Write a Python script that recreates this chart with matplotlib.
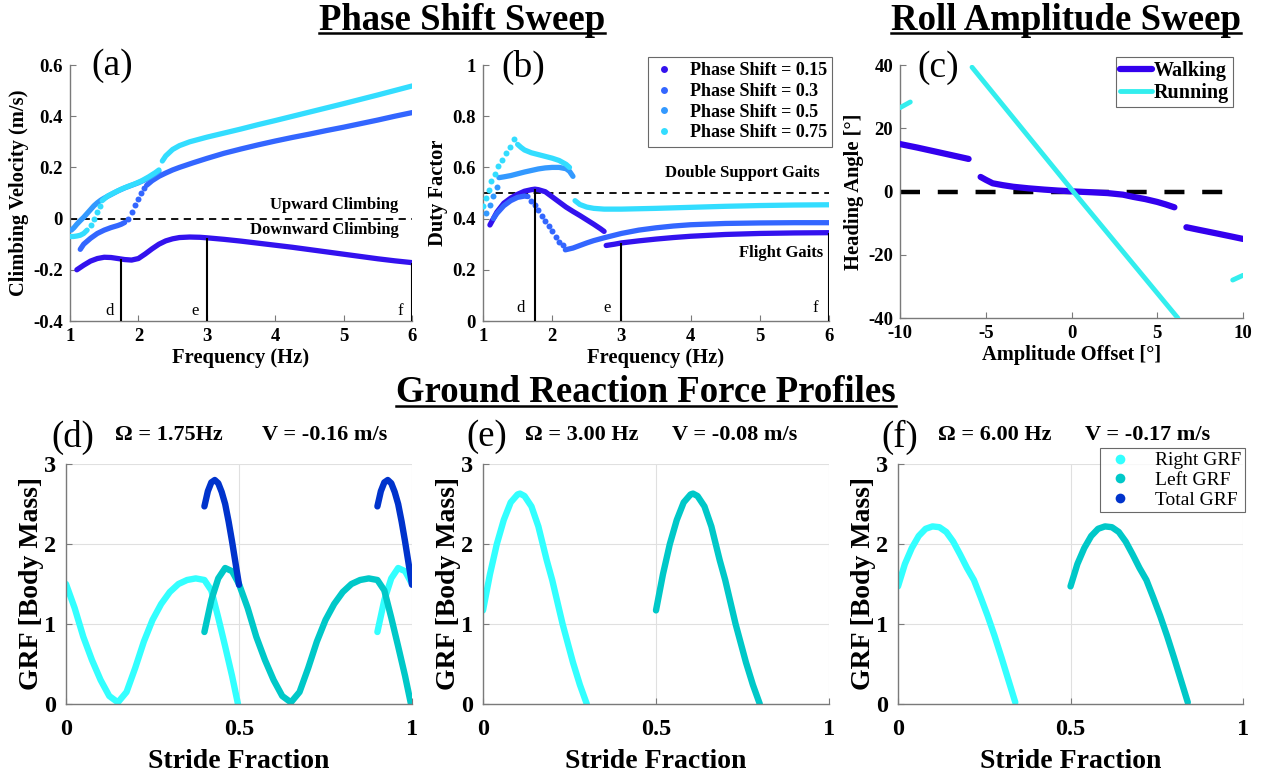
import matplotlib
matplotlib.use("Agg")
import matplotlib.pyplot as plt
from matplotlib.lines import Line2D
from matplotlib.ticker import FuncFormatter

# ---- 색상 ----
C015, C03, C05, C075 = "#3312ee", "#3366ff", "#3399ff", "#33ddff"
C_WALK, C_RUN = "#3300ee", "#33eeee"
C_RIGHT, C_LEFT, C_TOTAL = "#33ffff", "#00c8c8", "#0033cc"

phase_labels = ["Phase Shift = 0.15", "Phase Shift = 0.3", "Phase Shift = 0.5", "Phase Shift = 0.75"]
marker_freqs = [1.75, 3.0, 6.0]
marker_names = ["d", "e", "f"]

# ---- (a) climbing velocity vs frequency ----
a_f_015 = [1.1, 1.2, 1.3, 1.4, 1.5, 1.6, 1.7, 1.8, 1.9, 2.0, 2.1, 2.2, 2.3, 2.4, 2.5, 2.6, 2.75, 2.9,
           3.0, 3.25, 3.5, 3.75, 4.0, 4.25, 4.5, 4.75, 5.0, 5.25, 5.5, 5.75, 6.0]
a_v_015 = [-0.200, -0.182, -0.166, -0.156, -0.151, -0.152, -0.156, -0.160, -0.162, -0.156, -0.138, -0.118,
           -0.100, -0.087, -0.079, -0.074, -0.072, -0.073, -0.075, -0.081, -0.088, -0.096, -0.104, -0.112,
           -0.121, -0.130, -0.139, -0.148, -0.157, -0.165, -0.172]
a_f_03 = [1.15, 1.2, 1.3, 1.4, 1.5, 1.6, 1.7, 1.75, 1.8]
a_v_03 = [-0.12, -0.10, -0.077, -0.058, -0.045, -0.035, -0.027, -0.022, -0.015]
a_f_03_dots = [1.85, 1.9, 1.95, 2.0, 2.04, 2.08]
a_v_03_dots = [0.0, 0.027, 0.053, 0.078, 0.1, 0.118]
a_f_03_b = [2.12, 2.2, 2.3, 2.4, 2.5, 2.6, 2.8, 3.0, 3.25, 3.5, 3.75, 4.0, 4.25, 4.5, 4.75, 5.0,
            5.25, 5.5, 5.75, 6.0]
a_v_03_b = [0.13, 0.148, 0.165, 0.178, 0.19, 0.2, 0.218, 0.235, 0.255, 0.272, 0.288, 0.303, 0.317,
            0.330, 0.344, 0.357, 0.371, 0.385, 0.4, 0.414]
a_f_05 = [1.02, 1.06, 1.1, 1.15, 1.2, 1.25, 1.3, 1.35, 1.4, 1.45, 1.5, 1.6, 1.7, 1.8, 1.9, 2.0, 2.1, 2.2, 2.3]
a_v_05 = [-0.045, -0.035, -0.022, -0.008, 0.005, 0.02, 0.035, 0.05, 0.062, 0.072, 0.08, 0.094, 0.108,
          0.12, 0.13, 0.14, 0.152, 0.167, 0.185]
a_f_075 = [1.0, 1.05, 1.1, 1.15, 1.2, 1.25]
a_v_075 = [-0.07, -0.07, -0.068, -0.065, -0.058, -0.045]
a_f_075_dots = [1.3, 1.35, 1.4, 1.44]
a_v_075_dots = [-0.025, 0.0, 0.025, 0.05]
a_f_075_b = [1.47, 1.55, 1.65, 1.75, 1.85, 1.95, 2.05, 2.15, 2.25, 2.3]
a_v_075_b = [0.07, 0.088, 0.102, 0.115, 0.126, 0.136, 0.148, 0.163, 0.18, 0.19]
a_f_075_c = [2.35, 2.4, 2.5, 2.6, 2.75, 3.0, 3.25, 3.5, 3.75, 4.0, 4.5, 5.0, 5.5, 6.0]
a_v_075_c = [0.225, 0.245, 0.27, 0.285, 0.3, 0.318, 0.334, 0.35, 0.367, 0.383, 0.416, 0.449, 0.483, 0.518]
a_mark_v = [-0.158, -0.075, -0.172]

# ---- (b) duty factor vs frequency ----
b_f_015 = [1.1, 1.15, 1.2, 1.3, 1.4, 1.5, 1.6, 1.7, 1.75, 1.8, 1.9, 2.0, 2.1, 2.2, 2.3, 2.4, 2.5, 2.6, 2.7, 2.75]
b_d_015 = [0.375, 0.4, 0.425, 0.46, 0.48, 0.495, 0.507, 0.513, 0.515, 0.513, 0.505, 0.485, 0.465, 0.445,
           0.428, 0.412, 0.395, 0.378, 0.36, 0.35]
b_f_015_b = [2.78, 2.9, 3.0, 3.25, 3.5, 3.75, 4.0, 4.5, 5.0, 5.5, 6.0]
b_d_015_b = [0.295, 0.3, 0.305, 0.313, 0.32, 0.326, 0.331, 0.338, 0.342, 0.344, 0.345]
b_f_03 = [1.15, 1.2, 1.3, 1.4, 1.5, 1.6, 1.65]
b_d_03 = [0.40, 0.42, 0.45, 0.47, 0.483, 0.488, 0.486]
b_f_03_dots = [1.7, 1.75, 1.8, 1.85, 1.9, 1.95, 2.0, 2.05, 2.1, 2.15]
b_d_03_dots = [0.47, 0.455, 0.435, 0.41, 0.39, 0.37, 0.35, 0.33, 0.31, 0.295]
b_f_03_b = [2.19, 2.3, 2.4, 2.5, 2.6, 2.75, 3.0, 3.25, 3.5, 3.75, 4.0, 4.5, 5.0, 5.5, 6.0]
b_d_03_b = [0.278, 0.285, 0.295, 0.305, 0.314, 0.325, 0.342, 0.355, 0.364, 0.371, 0.376, 0.381, 0.383,
            0.384, 0.384]
b_f_05_dots = [1.05, 1.1, 1.15, 1.2]
b_d_05_dots = [0.42, 0.455, 0.49, 0.525]
b_f_05 = [1.23, 1.3, 1.4, 1.5, 1.6, 1.7, 1.8, 1.9, 2.0, 2.1, 2.2, 2.25, 2.3]
b_d_05 = [0.56, 0.563, 0.568, 0.575, 0.582, 0.588, 0.594, 0.598, 0.6, 0.6, 0.595, 0.585, 0.565]
b_f_075_dots = [1.0, 1.04, 1.08, 1.12, 1.17, 1.22, 1.27, 1.33, 1.39, 1.45]
b_d_075_dots = [0.45, 0.48, 0.51, 0.545, 0.575, 0.605, 0.63, 0.655, 0.68, 0.71]
b_f_075 = [1.5, 1.55, 1.6, 1.7, 1.8, 1.9, 2.0, 2.1, 2.2, 2.25]
b_d_075 = [0.69, 0.678, 0.668, 0.657, 0.65, 0.643, 0.636, 0.627, 0.612, 0.6]
b_f_075_b = [2.33, 2.4, 2.5, 2.6, 2.75, 3.0, 3.5, 4.0, 4.5, 5.0, 5.5, 6.0]
b_d_075_b = [0.47, 0.455, 0.445, 0.44, 0.437, 0.437, 0.44, 0.444, 0.448, 0.451, 0.453, 0.454]
b_mark_d = [0.515, 0.305, 0.345]

# ---- (c) heading angle vs amplitude offset ----
c_walk_a1 = [-10, -9, -8, -7, -6]
c_walk_h1 = [15, 13.9, 12.7, 11.5, 10.3]
c_walk_a2 = [-5.3, -5, -4.6, -4, -3.4, -2.5, -1.6, -0.8, 0.2, 1.2, 2.1, 3, 3.6, 4.3, 5, 5.5, 6]
c_walk_h2 = [4.6, 3.7, 2.6, 2.0, 1.5, 1.0, 0.6, 0.3, 0, -0.25, -0.5, -1.0, -1.7, -2.4, -3.3, -4.1, -5.0]
c_walk_a3 = [6.7, 7.5, 8.5, 9.3, 10]
c_walk_h3 = [-11.3, -12.2, -13.3, -14.2, -15]
c_run_a1 = [-10, -9.4]
c_run_h1 = [26.5, 28.3]
c_run_a2 = [-5.8, 0.1, 6.2]
c_run_h2 = [39.3, 0, -40]
c_run_a3 = [9.4, 10]
c_run_h3 = [-28, -26.5]
c_ref_a = [-10, 9]

# ---- (d) 1.75 Hz ----
d_s_right1 = [0, 0.025, 0.05, 0.075, 0.1, 0.125, 0.15, 0.175, 0.2, 0.225, 0.25, 0.275, 0.3, 0.325, 0.35,
              0.375, 0.4, 0.42, 0.44, 0.46, 0.48, 0.497]
d_g_right1 = [1.5, 1.2, 0.84, 0.55, 0.3, 0.1, 0.02, 0.15, 0.45, 0.78, 1.05, 1.25, 1.4, 1.5, 1.55, 1.57,
              1.55, 1.42, 1.08, 0.72, 0.35, 0.0]
d_s_right2 = [0.9, 0.92, 0.94, 0.96, 0.98, 1.0]
d_g_right2 = [0.9, 1.3, 1.57, 1.7, 1.66, 1.5]
d_s_left = [0.4, 0.42, 0.44, 0.46, 0.48, 0.5, 0.525, 0.55, 0.575, 0.6, 0.625, 0.65, 0.675, 0.7, 0.725,
            0.75, 0.775, 0.8, 0.825, 0.85, 0.875, 0.9, 0.92, 0.94, 0.96, 0.98, 0.997]
d_g_left = [0.9, 1.3, 1.57, 1.7, 1.66, 1.5, 1.2, 0.84, 0.55, 0.3, 0.1, 0.02, 0.15, 0.45, 0.78, 1.05, 1.25,
            1.4, 1.5, 1.55, 1.57, 1.55, 1.42, 1.08, 0.72, 0.35, 0.0]
d_s_total1 = [0.4, 0.41, 0.42, 0.43, 0.44, 0.45, 0.46, 0.47, 0.48, 0.49, 0.5]
d_s_total2 = [0.9, 0.91, 0.92, 0.93, 0.94, 0.95, 0.96, 0.97, 0.98, 0.99, 1.0]
d_g_total = [2.47, 2.66, 2.77, 2.8, 2.76, 2.65, 2.5, 2.28, 2.03, 1.76, 1.49]

# ---- (e) 3.00 Hz ----
e_s_right = [0, 0.02, 0.04, 0.06, 0.08, 0.1, 0.107, 0.12, 0.14, 0.16, 0.184, 0.2, 0.23, 0.26, 0.28, 0.3]
e_s_left = [0.5, 0.52, 0.54, 0.56, 0.58, 0.6, 0.607, 0.62, 0.64, 0.66, 0.684, 0.7, 0.73, 0.76, 0.78, 0.8]
e_g = [1.17, 1.62, 2.0, 2.3, 2.52, 2.62, 2.63, 2.6, 2.47, 2.22, 1.8, 1.55, 1.0, 0.52, 0.24, 0.0]

# ---- (f) 6.00 Hz ----
f_s_right = [0, 0.02, 0.04, 0.06, 0.08, 0.1, 0.12, 0.14, 0.16, 0.18, 0.2, 0.22, 0.24, 0.26, 0.28, 0.3,
             0.32, 0.34]
f_s_left = [0.5, 0.52, 0.54, 0.56, 0.58, 0.6, 0.62, 0.64, 0.66, 0.68, 0.7, 0.72, 0.74, 0.76, 0.78, 0.8,
            0.82, 0.84]
f_g = [1.47, 1.75, 1.95, 2.1, 2.19, 2.22, 2.21, 2.15, 2.03, 1.87, 1.7, 1.55, 1.33, 1.1, 0.85, 0.58, 0.3, 0.02]

grf_titles = [("(d)", "Ω = 1.75Hz", "V = -0.16 m/s"),
              ("(e)", "Ω = 3.00 Hz", "V = -0.08 m/s"),
              ("(f)", "Ω = 6.00 Hz", "V = -0.17 m/s")]

W, H = 1265, 777
plt.rcParams['font.family'] = ['Liberation Serif', 'DejaVu Serif']
plt.rcParams['font.weight'] = 'bold'
plt.rcParams['axes.labelweight'] = 'bold'
plt.rcParams['axes.unicode_minus'] = False

fmt = FuncFormatter(lambda v, p: '%g' % round(v, 6))


def px_axes(fig, left, top, right, bottom):
    return fig.add_axes([left / W, 1 - bottom / H, (right - left) / W, (bottom - top) / H])


def style_axes(ax, size):
    for s in ['top', 'right']:
        ax.spines[s].set_visible(False)
    for s in ['left', 'bottom']:
        ax.spines[s].set_color('#7a7a7a')
        ax.spines[s].set_linewidth(1.0)
    ax.tick_params(direction='in', length=4, width=0.8, color='#7a7a7a', labelsize=size, pad=5)
    ax.xaxis.set_major_formatter(fmt)
    ax.yaxis.set_major_formatter(fmt)


def dense(ax, x, y, c, lw=3.8):
    ax.plot(x, y, '-', color=c, lw=lw, solid_capstyle='round', zorder=3)


def dots(ax, x, y, c):
    ax.plot(x, y, 'o', color=c, ms=4.3, mec='none', zorder=3)


fig = plt.figure(figsize=(W / 100, H / 100), dpi=100)

TICK_TOP = 13.5
LABEL_TOP = 14.8

# ---------- (a) ----------
ax = px_axes(fig, 70, 65, 412, 321)
style_axes(ax, TICK_TOP)
ax.axhline(0, color='k', lw=1.3, ls=(0, (4, 3)), zorder=2)
dense(ax, a_f_015, a_v_015, C015)
dense(ax, a_f_03, a_v_03, C03)
dots(ax, a_f_03_dots, a_v_03_dots, C03)
dense(ax, a_f_03_b, a_v_03_b, C03)
dense(ax, a_f_05, a_v_05, C05)
dense(ax, a_f_075, a_v_075, C075)
dots(ax, a_f_075_dots, a_v_075_dots, C075)
dense(ax, a_f_075_b, a_v_075_b, C075)
dense(ax, a_f_075_c, a_v_075_c, C075)
ax.vlines(marker_freqs, -0.4, a_mark_v, color='k', lw=1.5, zorder=4)
for fq, nm in zip(marker_freqs, marker_names):
    ax.text(fq - 0.17, -0.36, nm, fontsize=12, fontweight='normal', ha='center', va='center')
ax.text(5.8, 0.053, 'Upward Climbing', fontsize=12, ha='right', va='center')
ax.text(5.8, -0.045, 'Downward Climbing', fontsize=12, ha='right', va='center')
ax.set_xlim(1, 6)
ax.set_ylim(-0.4, 0.6)
ax.set_xticks([1, 2, 3, 4, 5, 6])
ax.set_yticks([-0.4, -0.2, 0, 0.2, 0.4, 0.6])
ax.set_xlabel('Frequency (Hz)', fontsize=LABEL_TOP, labelpad=2)
ax.set_ylabel('Climbing Velocity (m/s)', fontsize=LABEL_TOP, labelpad=3)
ax.text(0.123, 0.996, '(a)', transform=ax.transAxes, fontsize=27, fontweight='normal',
        ha='center', va='center')

# ---------- (b) ----------
ax = px_axes(fig, 483, 65, 829, 321)
style_axes(ax, TICK_TOP)
ax.axhline(0.5, color='k', lw=1.3, ls=(0, (4, 3)), zorder=2)
dense(ax, b_f_015, b_d_015, C015)
dense(ax, b_f_015_b, b_d_015_b, C015)
dense(ax, b_f_03, b_d_03, C03)
dots(ax, b_f_03_dots, b_d_03_dots, C03)
dense(ax, b_f_03_b, b_d_03_b, C03)
dots(ax, b_f_05_dots, b_d_05_dots, C05)
dense(ax, b_f_05, b_d_05, C05)
dots(ax, b_f_075_dots, b_d_075_dots, C075)
dense(ax, b_f_075, b_d_075, C075)
dense(ax, b_f_075_b, b_d_075_b, C075)
ax.vlines(marker_freqs, 0, b_mark_d, color='k', lw=1.5, zorder=4)
for fq, nm in zip(marker_freqs, marker_names):
    ax.text(fq - 0.2, 0.05, nm, fontsize=12, fontweight='normal', ha='center', va='center')
ax.text(5.87, 0.58, 'Double Support Gaits', fontsize=12, ha='right', va='center')
ax.text(5.91, 0.265, 'Flight Gaits', fontsize=12, ha='right', va='center')
ax.set_xlim(1, 6)
ax.set_ylim(0, 1)
ax.set_xticks([1, 2, 3, 4, 5, 6])
ax.set_yticks([0, 0.2, 0.4, 0.6, 0.8, 1])
ax.set_xlabel('Frequency (Hz)', fontsize=LABEL_TOP, labelpad=2)
ax.set_ylabel('Duty Factor', fontsize=LABEL_TOP, labelpad=3)
ax.text(0.116, 0.99, '(b)', transform=ax.transAxes, fontsize=27, fontweight='normal',
        ha='center', va='center')
handles = [Line2D([], [], ls='none', marker='o', ms=5, mec='none', color=c)
           for c in [C015, C03, C05, C075]]
leg = ax.legend(handles, phase_labels, loc='upper right', bbox_to_anchor=(1.009, 1.031),
                borderaxespad=0, fontsize=13, frameon=True, fancybox=False, handlelength=1.2,
                handletextpad=0.8, labelspacing=0.2, borderpad=0.3)
leg.get_frame().set_edgecolor('#444444')
leg.get_frame().set_linewidth(0.8)

# ---------- (c) ----------
ax = px_axes(fig, 900, 65, 1243, 318)
style_axes(ax, TICK_TOP)
ax.plot(c_ref_a, [0, 0], color='k', lw=3.2, dashes=(4.5, 4), zorder=2)
ax.plot(c_walk_a1, c_walk_h1, color=C_WALK, lw=4.5, solid_capstyle='round', zorder=3, label='Walking')
ax.plot(c_walk_a2, c_walk_h2, color=C_WALK, lw=4.5, solid_capstyle='round', zorder=3)
ax.plot(c_walk_a3, c_walk_h3, color=C_WALK, lw=4.5, solid_capstyle='round', zorder=3)
ax.plot(c_run_a1, c_run_h1, color=C_RUN, lw=3.5, solid_capstyle='round', zorder=3, label='Running')
ax.plot(c_run_a2, c_run_h2, color=C_RUN, lw=3.5, solid_capstyle='round', zorder=3)
ax.plot(c_run_a3, c_run_h3, color=C_RUN, lw=3.5, solid_capstyle='round', zorder=3)
ax.set_xlim(-10, 10)
ax.set_ylim(-40, 40)
ax.set_xticks([-10, -5, 0, 5, 10])
ax.set_yticks([-40, -20, 0, 20, 40])
ax.set_xlabel('Amplitude Offset [°]', fontsize=LABEL_TOP, labelpad=2)
ax.set_ylabel('Heading Angle [°]', fontsize=LABEL_TOP, labelpad=3)
ax.text(0.11, 0.988, '(c)', transform=ax.transAxes, fontsize=27, fontweight='normal',
        ha='center', va='center')
leg = ax.legend(loc='upper right', bbox_to_anchor=(0.971, 1.032), borderaxespad=0, fontsize=14.5,
                frameon=True, fancybox=False, handlelength=1.6, handletextpad=0.1,
                labelspacing=0.1, borderpad=0.2)
leg.get_frame().set_edgecolor('#444444')
leg.get_frame().set_linewidth(0.8)

# ---------- (d), (e), (f) ----------
boxes = [(66, 412), (483, 829), (898, 1243)]
grf_axes = []
for (l, r) in boxes:
    ax = px_axes(fig, l, 464, r, 704)
    style_axes(ax, 17.5)
    ax.grid(True, color='#e0e0e0', lw=0.8)
    ax.set_axisbelow(True)
    ax.set_xlim(0, 1)
    ax.set_ylim(0, 3)
    ax.set_xticks([0, 0.5, 1])
    ax.set_yticks([0, 1, 2, 3])
    ax.tick_params(axis='x', pad=11)
    ax.tick_params(axis='y', pad=7)
    ax.set_xlabel('Stride Fraction', fontsize=20, labelpad=6)
    ax.set_ylabel('GRF [Body Mass]', fontsize=20, labelpad=0)
    grf_axes.append(ax)

lw_g = 4.6
ax = grf_axes[0]
ax.plot(d_s_right1, d_g_right1, color=C_RIGHT, lw=lw_g, solid_capstyle='round')
ax.plot(d_s_right2, d_g_right2, color=C_RIGHT, lw=lw_g, solid_capstyle='round')
ax.plot(d_s_left, d_g_left, color=C_LEFT, lw=lw_g, solid_capstyle='round')
ax.plot(d_s_total1, d_g_total, color=C_TOTAL, lw=lw_g, solid_capstyle='round')
ax.plot(d_s_total2, d_g_total, color=C_TOTAL, lw=lw_g, solid_capstyle='round')

ax = grf_axes[1]
ax.plot(e_s_right, e_g, color=C_RIGHT, lw=lw_g, solid_capstyle='round')
ax.plot(e_s_left, e_g, color=C_LEFT, lw=lw_g, solid_capstyle='round')

ax = grf_axes[2]
ax.plot(f_s_right, f_g, color=C_RIGHT, lw=lw_g, solid_capstyle='round')
ax.plot(f_s_left, f_g, color=C_LEFT, lw=lw_g, solid_capstyle='round')
handles = [Line2D([], [], ls='none', marker='o', ms=7, mec='none', color=c)
           for c in [C_RIGHT, C_LEFT, C_TOTAL]]
leg = ax.legend(handles, ['Right GRF', 'Left GRF', 'Total GRF'], loc='upper right',
                bbox_to_anchor=(1.006, 1.067), borderaxespad=0, frameon=True, fancybox=False,
                prop={'family': 'Liberation Serif', 'weight': 'normal', 'size': 14},
                handlelength=1.6, handletextpad=1.0, labelspacing=0.1, borderpad=0.2)
leg.get_frame().set_edgecolor('#444444')
leg.get_frame().set_linewidth(0.8)
leg.set_zorder(10)

# 패널 제목 (d/e/f)
title_pos = [(73, 169, 325), (487, 582, 735), (900, 995, 1148)]
for (lab, om, vel), (xl, xo, xv) in zip(grf_titles, title_pos):
    fig.text(xl / W, 1 - 437 / H, lab, fontsize=26.5, fontweight='normal', ha='center', va='center')
    fig.text(xo / W, 1 - 435 / H, om, fontsize=16, ha='center', va='center')
    fig.text(xv / W, 1 - 435 / H, vel, fontsize=16, ha='center', va='center')

# 큰 제목 + 밑줄
titles = [fig.text(462 / W, 1 - 20 / H, 'Phase Shift Sweep', fontsize=26.5, ha='center', va='center'),
          fig.text(1066 / W, 1 - 20 / H, 'Roll Amplitude Sweep', fontsize=26.5, ha='center', va='center'),
          fig.text(646 / W, 1 - 393 / H, 'Ground Reaction Force Profiles', fontsize=26.5,
                   ha='center', va='center')]
fig.canvas.draw()
renderer = fig.canvas.get_renderer()
for t in titles:
    bb = t.get_window_extent(renderer)
    y = (bb.y0 + 0.14 * bb.height) / H
    fig.add_artist(Line2D([bb.x0 / W, bb.x1 / W], [y, y], color='k', lw=1.8,
                          transform=fig.transFigure))

fig.savefig('out.png', dpi=100)
